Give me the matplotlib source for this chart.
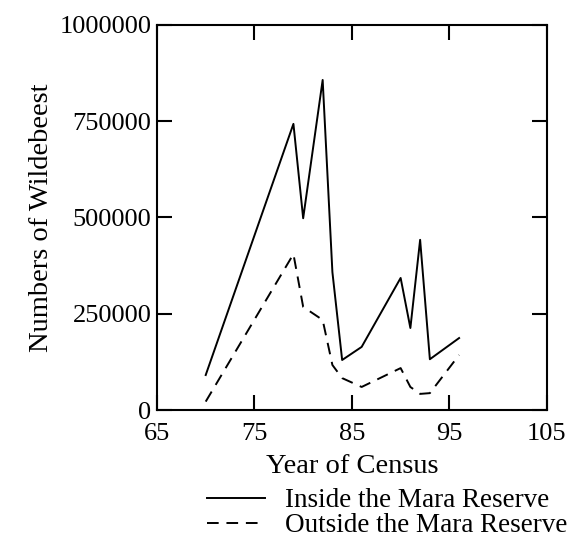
import matplotlib.pyplot as plt
from matplotlib.lines import Line2D

plt.rcParams['font.family'] = ['Liberation Serif', 'DejaVu Serif']

years_inside = [70, 79, 80, 82, 83, 84, 86, 90, 91, 92, 93, 96]
inside = [91000, 743000, 498000, 857000, 358000, 130000, 164000,
          343000, 213000, 442000, 132000, 187000]

years_outside = [70, 79, 80, 82, 83, 84, 86, 90, 91, 92, 93, 96]
outside = [22000, 405000, 268000, 234000, 117000, 83000, 60000,
           109000, 60000, 42000, 44000, 143000]

x_ticks = [65, 75, 85, 95, 105]
y_ticks = [0, 250000, 500000, 750000, 1000000]

fig = plt.figure(figsize=(5.75, 5.41), dpi=100)
ax = fig.add_axes([0.273, 0.242, 0.678, 0.712])

ax.plot(years_inside, inside, color='black', linewidth=1.4)
ax.plot(years_outside, outside, color='black', linewidth=1.4,
        linestyle=(0, (6, 4)))

ax.set_xlim(65, 105)
ax.set_ylim(0, 1000000)
ax.set_xticks(x_ticks)
ax.set_yticks(y_ticks)
ax.set_yticklabels([str(v) for v in y_ticks])
ax.tick_params(direction='in', length=11, width=1.5, labelsize=19,
               top=True, right=True)
ax.tick_params(axis='x', pad=9)
ax.tick_params(axis='y', pad=4)
for spine in ax.spines.values():
    spine.set_linewidth(1.5)

ax.set_xlabel("Year of Census", fontsize=20.5, labelpad=7)
ax.set_ylabel("Numbers of Wildebeest", fontsize=20.5, labelpad=4)

handles = [Line2D([], [], color='black', linewidth=1.4),
           Line2D([], [], color='black', linewidth=1.4, linestyle=(0, (6, 4)))]
fig.legend(handles, ["Inside the Mara Reserve", "Outside the Mara Reserve"],
           loc='upper left', bbox_to_anchor=(0.36, 0.098), frameon=False,
           fontsize=19.5, handlelength=2.15, handletextpad=0.74,
           labelspacing=0.0, borderpad=0, borderaxespad=0)

fig.savefig("out.png", dpi=100)
